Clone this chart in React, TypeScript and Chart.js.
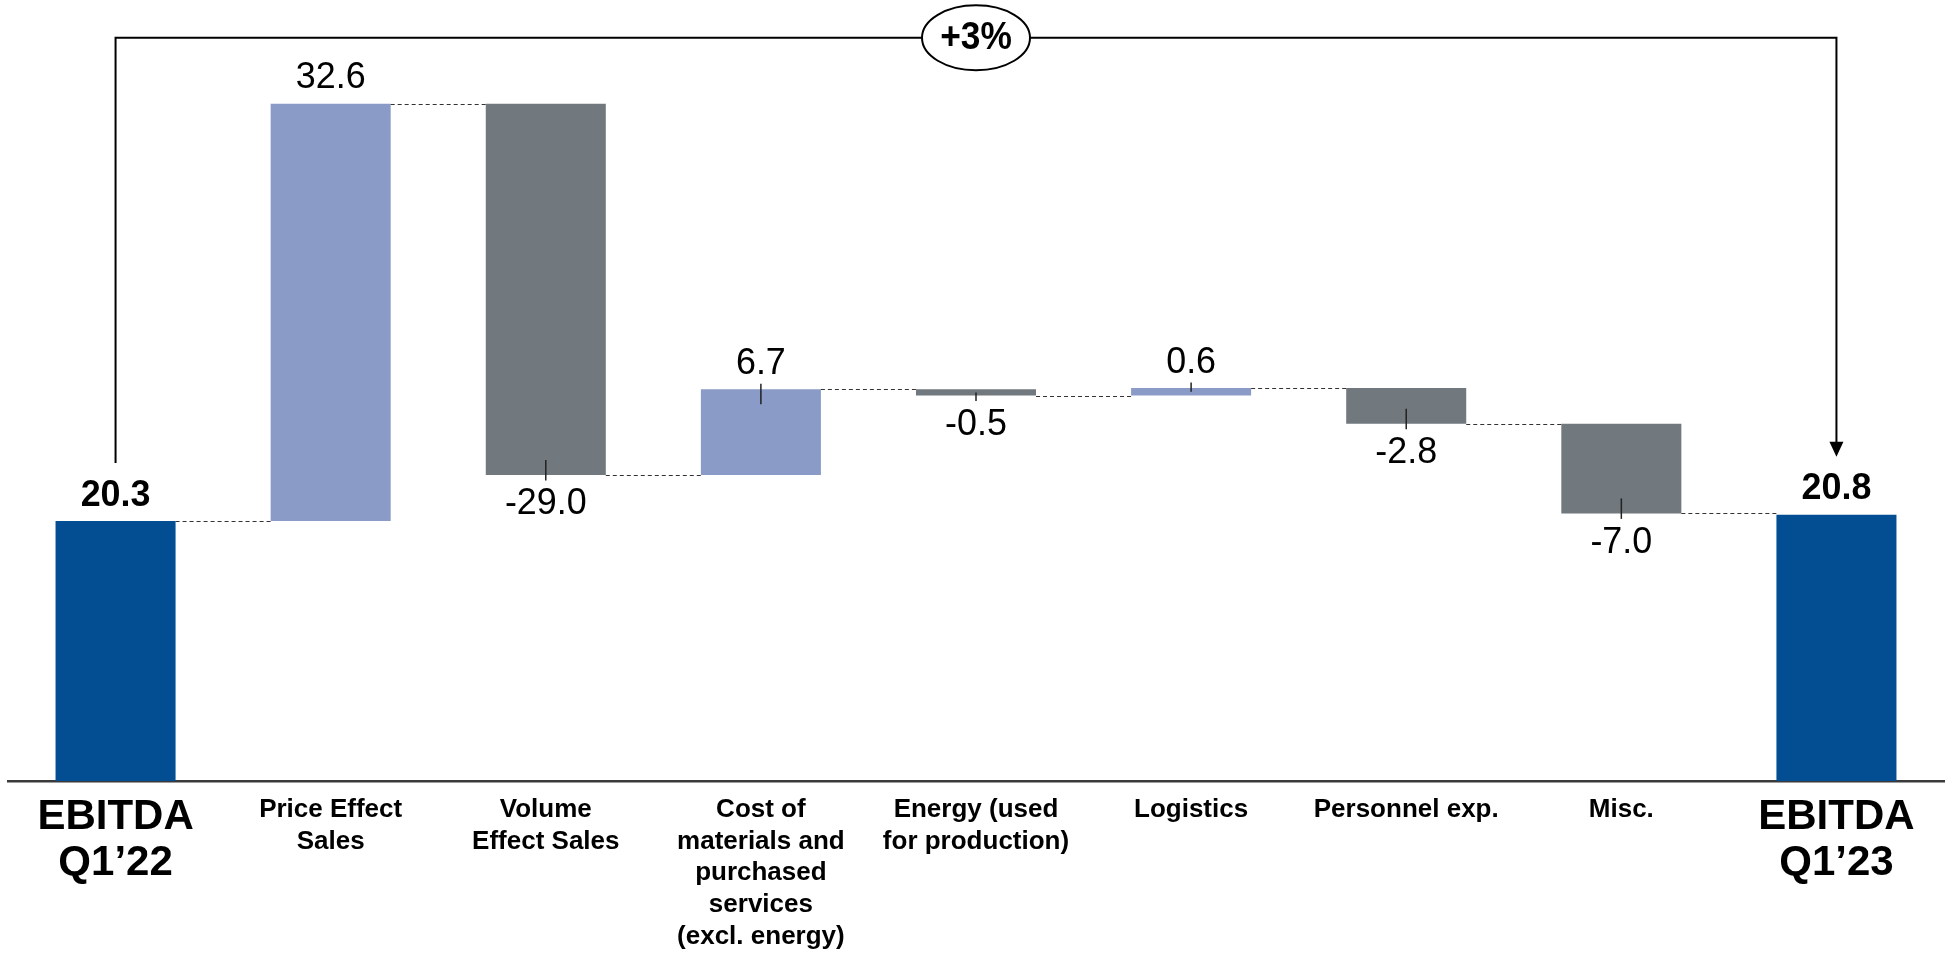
import React, { useEffect, useRef } from 'react';
import { Chart, registerables } from 'chart.js';

Chart.register(...registerables);

// ---------- data ----------
const categories: string[][] = [
  ['EBITDA', 'Q1’22'],
  ['Price Effect', 'Sales'],
  ['Volume', 'Effect Sales'],
  ['Cost of', 'materials and', 'purchased', 'services', '(excl. energy)'],
  ['Energy (used', 'for production)'],
  ['Logistics'],
  ['Personnel exp.'],
  ['Misc.'],
  ['EBITDA', 'Q1’23'],
];
const startValue = 20.3;
const deltas = [32.6, -29.0, 6.7, -0.5, 0.6, -2.8, -7.0];
const endValue = 20.8;
const valueLabels = ['20.3', '32.6', '-29.0', '6.7', '-0.5', '0.6', '-2.8', '-7.0', '20.8'];
const changeLabel = '+3%';
const leaderLines = [false, false, true, true, true, true, true, true, false];

const yMax = 61;
const bracketLevel = 58.05;

const COLOR_TOTAL = '#034e93';
const COLOR_UP = '#8a9bc8';
const COLOR_DOWN = '#71787e';
const FONT = '"Liberation Sans", Arial, Helvetica, sans-serif';

// build floating ranges from the values
const ranges: [number, number][] = [];
ranges.push([0, startValue]);
let running = startValue;
for (const d of deltas) {
  const next = Math.round((running + d) * 10) / 10;
  ranges.push([running, next]);
  running = next;
}
ranges.push([0, endValue]);

const barColors = ranges.map((_, i) => {
  if (i === 0 || i === ranges.length - 1) return COLOR_TOTAL;
  return deltas[i - 1] >= 0 ? COLOR_UP : COLOR_DOWN;
});

function drawText(ctx: any, text: string, x: number, y: number, font: string, sx: number) {
  ctx.save();
  ctx.translate(x, y);
  ctx.scale(sx, 1);
  ctx.font = font;
  ctx.textAlign = 'center';
  ctx.textBaseline = 'middle';
  ctx.fillStyle = '#000';
  ctx.fillText(text, 0, 0);
  ctx.restore();
}

const waterfallPlugin = {
  id: 'waterfallDecor',
  afterDatasetsDraw(chart: any) {
    const ctx = chart.ctx;
    const meta = chart.getDatasetMeta(0);
    const yScale = chart.scales.y;
    const n = meta.data.length;
    const bars = meta.data.map((b: any) => b.getProps(['x', 'y', 'base', 'width'], true));

    ctx.save();
    // connectors
    ctx.strokeStyle = '#333';
    ctx.lineWidth = 1;
    ctx.setLineDash([4, 3]);
    for (let i = 0; i < n - 1; i++) {
      const level = ranges[i][1];
      const yp = Math.round(yScale.getPixelForValue(level)) + 0.5;
      const a = bars[i];
      const b = bars[i + 1];
      ctx.beginPath();
      ctx.moveTo(a.x + a.width / 2, yp);
      ctx.lineTo(b.x - b.width / 2, yp);
      ctx.stroke();
    }
    ctx.setLineDash([]);

    // value labels + leader lines
    for (let i = 0; i < n; i++) {
      const bar = bars[i];
      const top = Math.min(bar.y, bar.base);
      const bottom = Math.max(bar.y, bar.base);
      const h = bottom - top;
      const isTotal = i === 0 || i === n - 1;
      const neg = !isTotal && deltas[i - 1] < 0;
      const font = isTotal ? `bold 37px ${FONT}` : `37px ${FONT}`;
      if (neg) {
        drawText(ctx, valueLabels[i], bar.x, bottom + 29, font, 0.97);
      } else {
        drawText(ctx, valueLabels[i], bar.x, top - 25.5, font, 0.97);
      }
      if (leaderLines[i]) {
        const inside = Math.min(15, h * 0.5);
        ctx.strokeStyle = '#222';
        ctx.lineWidth = 1.5;
        ctx.beginPath();
        if (neg) {
          ctx.moveTo(bar.x, bottom - inside);
          ctx.lineTo(bar.x, bottom + 5.5);
        } else {
          ctx.moveTo(bar.x, top - 5.5);
          ctx.lineTo(bar.x, top + inside);
        }
        ctx.stroke();
      }
    }

    // bracket with change label
    const first = bars[0];
    const last = bars[n - 1];
    const yb = yScale.getPixelForValue(bracketLevel);
    const leftBottom = Math.min(first.y, first.base) - 58;
    const rightTip = Math.min(last.y, last.base) - 58;
    ctx.strokeStyle = '#000';
    ctx.lineWidth = 2;
    ctx.beginPath();
    ctx.moveTo(first.x, leftBottom);
    ctx.lineTo(first.x, yb);
    ctx.lineTo(last.x, yb);
    ctx.lineTo(last.x, rightTip - 14);
    ctx.stroke();
    ctx.fillStyle = '#000';
    ctx.beginPath();
    ctx.moveTo(last.x - 7, rightTip - 15);
    ctx.lineTo(last.x + 7, rightTip - 15);
    ctx.lineTo(last.x, rightTip);
    ctx.closePath();
    ctx.fill();

    const cx = (first.x + last.x) / 2;
    ctx.beginPath();
    ctx.ellipse(cx, yb, 54, 32.5, 0, 0, Math.PI * 2);
    ctx.fillStyle = '#fff';
    ctx.fill();
    ctx.lineWidth = 2;
    ctx.strokeStyle = '#000';
    ctx.stroke();
    drawText(ctx, changeLabel, cx, yb + 1, `bold 38px ${FONT}`, 0.93);
    ctx.restore();
  },
};

export default function App() {
  const ref = useRef<HTMLCanvasElement | null>(null);

  useEffect(() => {
    if (!ref.current) return;
    const chart = new Chart(ref.current, {
      type: 'bar',
      data: {
        labels: categories as any,
        datasets: [
          {
            data: ranges as any,
            backgroundColor: barColors,
            borderWidth: 0,
            barPercentage: 0.558,
            categoryPercentage: 1,
          },
        ],
      },
      options: {
        responsive: false,
        animation: false,
        layout: { padding: { left: 8, right: 10, top: 0, bottom: 0 } },
        plugins: {
          legend: { display: false },
          tooltip: { enabled: false },
          title: { display: false },
        },
        scales: {
          x: {
            grid: { display: false, drawTicks: false },
            border: { display: true, color: '#3a3a3a', width: 2.5 },
            ticks: {
              autoSkip: false,
              maxRotation: 0,
              minRotation: 0,
              padding: 13,
              color: '#000',
              font: (c: any) =>
                c.index === 0 || c.index === categories.length - 1
                  ? { family: FONT, size: 42, weight: 'bold', lineHeight: 1.1 }
                  : { family: FONT, size: 26, weight: 'bold', lineHeight: 1.22 },
            },
            afterFit: (scale: any) => {
              scale.height = 175;
            },
          },
          y: {
            display: false,
            min: 0,
            max: yMax,
          },
        },
      },
      plugins: [waterfallPlugin],
    });
    return () => chart.destroy();
  }, []);

  return (
    <div style={{ position: 'absolute', left: 0, top: 0, width: 1954, height: 956, background: '#fff' }}>
      <canvas ref={ref} width={1954} height={956} style={{ display: 'block' }} />
    </div>
  );
}
